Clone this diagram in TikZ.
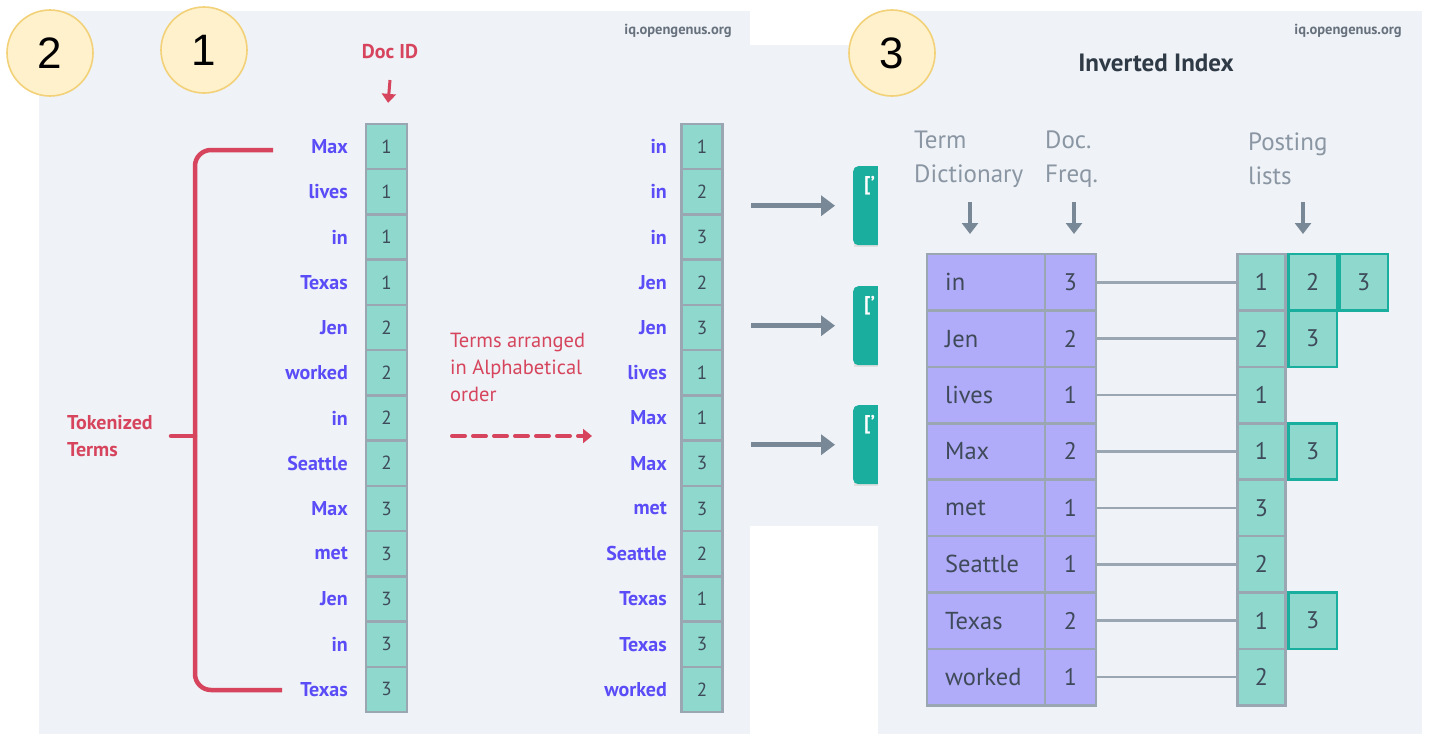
\documentclass[tikz,border=0pt]{standalone}
\usepackage{fontspec}
\setmainfont{PT Sans}
\newfontfamily\badgefont{Liberation Sans}
\usetikzlibrary{arrows.meta}

\definecolor{bgpanel}{HTML}{EFF2F6}
\definecolor{badgefill}{HTML}{FEF1CC}
\definecolor{badgeline}{HTML}{F2D178}
\definecolor{cellteal}{HTML}{8ED8CE}
\definecolor{cellline}{HTML}{9AA6B2}
\definecolor{tealdark}{HTML}{1AAE9F}
\definecolor{termblue}{HTML}{5A4CF6}
\definecolor{accentred}{HTML}{D6455D}
\definecolor{lavender}{HTML}{B1ACF9}
\definecolor{inktext}{HTML}{3E4A59}
\definecolor{slate}{HTML}{788896}
\definecolor{labelgray}{HTML}{8A96A3}
\definecolor{titleink}{HTML}{2F3A47}
\definecolor{markgray}{HTML}{66717D}

\tikzset{
  badge/.style={circle, draw=badgeline, line width=1.6pt, fill=badgefill,
    minimum size=86pt, inner sep=0pt, font=\badgefont\fontsize{44}{44}\selectfont},
  idcell/.style={draw=cellline, line width=2.4pt, fill=cellteal, minimum width=41pt,
    minimum height=45.2pt, inner sep=0pt, text=inktext, font=\fontsize{19}{19}\selectfont},
  termword/.style={anchor=east, inner sep=0pt, text=termblue,
    font=\bfseries\fontsize{20}{20}\selectfont},
  redlabel/.style={text=accentred, font=\bfseries\fontsize{20}{27}\selectfont, align=left, inner sep=0pt},
  watermark/.style={text=markgray, font=\bfseries\fontsize{14.5}{14.5}\selectfont, inner sep=0pt},
  fatarrow/.style={draw=slate, line width=5pt, -{Triangle[length=14pt,width=20pt]}},
  downarrow/.style={draw=slate, line width=4pt, -{Triangle[length=11pt,width=16pt]}},
  listbox/.style={fill=tealdark, rounded corners=5pt},
  headlabel/.style={text=labelgray, font=\fontsize{25}{34}\selectfont, align=left, inner sep=0pt, anchor=west},
  termcell/.style={draw=cellline, line width=2.6pt, fill=lavender, minimum width=118pt,
    minimum height=56.4pt, inner sep=0pt},
  freqcell/.style={draw=cellline, line width=2.6pt, fill=lavender, minimum width=51pt,
    minimum height=56.4pt, inner sep=0pt, text=inktext, font=\fontsize{24}{24}\selectfont},
  postcell/.style={draw=cellline, line width=2.6pt, fill=cellteal, minimum width=48.5pt,
    minimum height=56.4pt, inner sep=0pt, text=inktext, font=\fontsize{24}{24}\selectfont},
  postextra/.style={postcell, draw=tealdark},
  tableword/.style={anchor=west, inner sep=0pt, text=inktext, font=\fontsize{24.5}{24.5}\selectfont},
  linkline/.style={draw=cellline, line width=2.6pt},
}

\begin{document}
\begin{tikzpicture}[x=1pt,y=-1pt]
\useasboundingbox (0,0) rectangle (1429,734);
\fill[white] (0,0) rectangle (1429,734);

% background panels
\fill[bgpanel] (39,11) rectangle (750,734);
\fill[bgpanel] (750,45) rectangle (880,526);

% teal list boxes peeking out from the middle panel
\foreach \yy [count=\k] in {166,286,405}{
  \fill[black!12] (854,\yy+2) rectangle (900,\yy+81);
  \node[listbox, minimum width=47pt, minimum height=79pt, anchor=north west, inner sep=0pt] (box\k) at (853,\yy) {};
  \node[text=white, font=\bfseries\fontsize{20}{20}\selectfont, anchor=north west, inner sep=0pt] at (864,\yy+10) {['};
}

% right panel
\fill[bgpanel] (878,11) rectangle (1422,734);

% numbered badges
\node[badge] (b2) at (50,53) {2};
\node[badge] (b1) at (204,50) {1};
\node[badge] (b3) at (892,53) {3};

% watermarks
\node[watermark] (wm1) at (678,31) {iq.opengenus.org};
\node[watermark] (wm2) at (1348,31) {iq.opengenus.org};

% tokenized terms with their document ids
\foreach \t/\d [count=\i] in {Max/1,lives/1,in/1,Texas/1,Jen/2,worked/2,in/2,Seattle/2,Max/3,met/3,Jen/3,in/3,Texas/3}{
  \node[idcell] (l\i) at (386.5,{124+45.23*(\i-0.5)}) {\d};
  \node[termword] (lt\i) at (348,{124+45.23*(\i-0.5)}) {\t};
}

% the same terms sorted alphabetically
\foreach \t/\d [count=\i] in {in/1,in/2,in/3,Jen/2,Jen/3,lives/1,Max/1,Max/3,met/3,Seattle/2,Texas/1,Texas/3,worked/2}{
  \node[idcell] (s\i) at (702,{124+45.23*(\i-0.5)}) {\d};
  \node[termword] (st\i) at (667,{124+45.23*(\i-0.5)}) {\t};
}

% Doc ID label and arrow
\node[redlabel] (docid) at (390,52) {Doc ID};
\draw[accentred, line width=3pt, -{Triangle[length=9pt,width=14pt]}]
  (390,80) -- (l1.north) [shorten >=20pt];

% bracket grouping the tokenized terms
\coordinate (brtop) at (273,150);
\coordinate (brbot) at (282,690);
\coordinate (brtick) at (171,436);
\draw[accentred, line width=4.5pt, rounded corners=16pt] (brtop) -| (195,690) -- (brbot);
\draw[accentred, line width=4.5pt, line cap=round] (brtick) -- (195,436);
\node[redlabel, anchor=west] (tok) at (67,436) {Tokenized\\Terms};

% sorting note with dashed arrow
\node[redlabel, font=\fontsize{20.5}{27}\selectfont, anchor=north west] (sortnote) at (450,333) {Terms arranged\\in Alphabetical\\order};
\coordinate (dstart) at (452,436);
\coordinate (dend) at (592,436);
\draw[accentred, line width=4pt, dash pattern=on 13pt off 8pt, line cap=round,
  -{Triangle[length=9pt,width=14pt]}] (dstart) -- (dend);

% arrows into the list boxes
\foreach \k in {1,2,3}{
  \draw[fatarrow] ([xshift=-102pt]box\k.west) -- (box\k.west) [shorten >=18pt];
}

% inverted index title and column headers
\node[text=titleink, font=\bfseries\fontsize{25}{25}\selectfont, inner sep=0pt] (title) at (1156,63) {Inverted Index};
\node[headlabel] (hterm) at (914,159) {Term\\Dictionary};
\node[headlabel] (hfreq) at (1045,159) {Doc.\\Freq.};
\node[headlabel] (hpost) at (1248,159) {Posting\\lists};
\draw[downarrow] (970,202) -- (970,234);
\draw[downarrow] (1074,202) -- (1074,234);
\draw[downarrow] (1303,202) -- (1303,234);

% dictionary, frequencies and first posting of each term
\foreach \t/\f/\p [count=\i] in {in/3/1,Jen/2/2,lives/1/1,Max/2/1,met/1/3,Seattle/1/2,Texas/2/1,worked/1/2}{
  \node[termcell] (t\i) at (986,{254+56.4*(\i-0.5)}) {};
  \node[tableword] (tw\i) at (945,{254+56.4*(\i-0.5)}) {\t};
  \node[freqcell] (f\i) at (1070.5,{254+56.4*(\i-0.5)}) {\f};
  \node[postcell] (p\i) at (1261.5,{254+56.4*(\i-0.5)}) {\p};
  \draw[linkline] (f\i.east) -- (p\i.west);
}

% further postings
\node[postextra, anchor=west] (q1) at (p1.east) {2};
\node[postextra, anchor=west] (r1) at (q1.east) {3};
\node[postextra, anchor=west] (q2) at (p2.east) {3};
\node[postextra, anchor=west] (q4) at (p4.east) {3};
\node[postextra, anchor=west] (q7) at (p7.east) {3};
\end{tikzpicture}
\end{document}
